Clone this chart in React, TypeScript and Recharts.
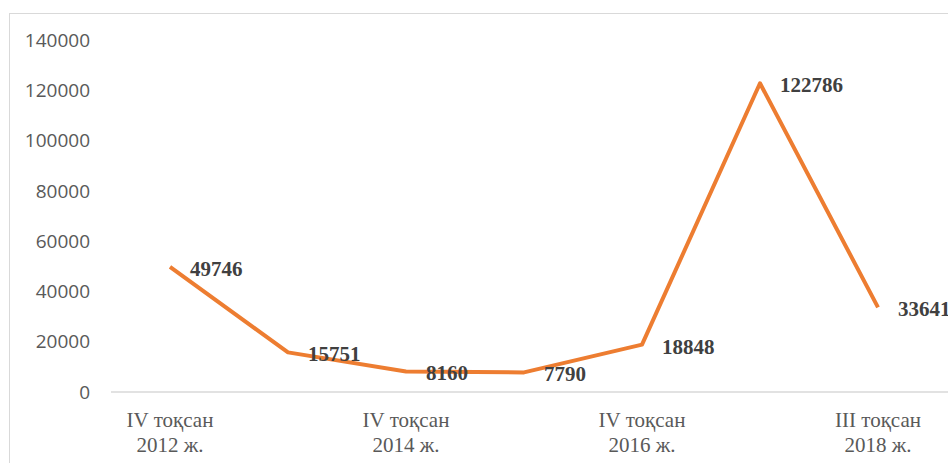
import { LineChart, Line, XAxis, YAxis, LabelList } from 'recharts';

const quarters = ['IV тоқсан', 'IV тоқсан', 'IV тоқсан', 'IV тоқсан', 'IV тоқсан', 'IV тоқсан', 'III тоқсан'];
const years = ['2012 ж.', '2013 ж.', '2014 ж.', '2015 ж.', '2016 ж.', '2017 ж.', '2018 ж.'];
const values = [49746, 15751, 8160, 7790, 18848, 122786, 33641];
const yTicks = [0, 20000, 40000, 60000, 80000, 100000, 120000, 140000];

const data = values.map((v, i) => ({ name: `${quarters[i]}\n${years[i]}`, value: v }));

const SERIF = '"Liberation Serif", "Times New Roman", serif';

function XTick(props: any) {
  const { x, y, payload } = props;
  const [l1, l2] = String(payload.value).split('\n');
  return (
    <g>
      <text x={x} y={y + 27} textAnchor="middle" fill="#595959" fontFamily={SERIF} fontSize={21}>
        {l1}
      </text>
      <text x={x} y={y + 52} textAnchor="middle" fill="#595959" fontFamily={SERIF} fontSize={21}>
        {l2}
      </text>
    </g>
  );
}

function ValueLabel(props: any) {
  const { x, y, value } = props;
  return (
    <text
      x={x + 20}
      y={y + 2}
      dominantBaseline="central"
      fill="#404040"
      fontFamily={SERIF}
      fontWeight="bold"
      fontSize={21}
    >
      {value}
    </text>
  );
}

export default function App() {
  return (
    <div style={{ position: 'absolute', left: 0, top: 0, width: 948, height: 463, overflow: 'hidden', background: '#fff' }}>
      <div
        style={{
          position: 'absolute',
          left: 9,
          top: 13,
          width: 960,
          height: 480,
          border: '1px solid #d9d9d9',
        }}
      />
      <div style={{ position: 'absolute', left: 0, top: 0 }}>
        <LineChart width={948} height={463} data={data} margin={{ top: 40, right: 0, bottom: 0, left: 0 }}>
          <XAxis
            dataKey="name"
            interval={1}
            tick={<XTick />}
            tickLine={false}
            axisLine={{ stroke: '#d9d9d9', strokeWidth: 1.5 }}
            padding={{ left: 59, right: 70 }}
            height={71}
          />
          <YAxis
            width={111}
            domain={[0, 140000]}
            ticks={yTicks}
            axisLine={false}
            tickLine={false}
            tickMargin={15}
            tick={{ fill: '#595959', fontSize: 19, fontFamily: '"Open Sans", sans-serif' }}
          />
          <Line
            dataKey="value"
            stroke="#ED7D31"
            strokeWidth={4}
            dot={false}
            strokeLinejoin="round"
            isAnimationActive={false}
          >
            <LabelList dataKey="value" content={<ValueLabel />} />
          </Line>
        </LineChart>
      </div>
    </div>
  );
}
